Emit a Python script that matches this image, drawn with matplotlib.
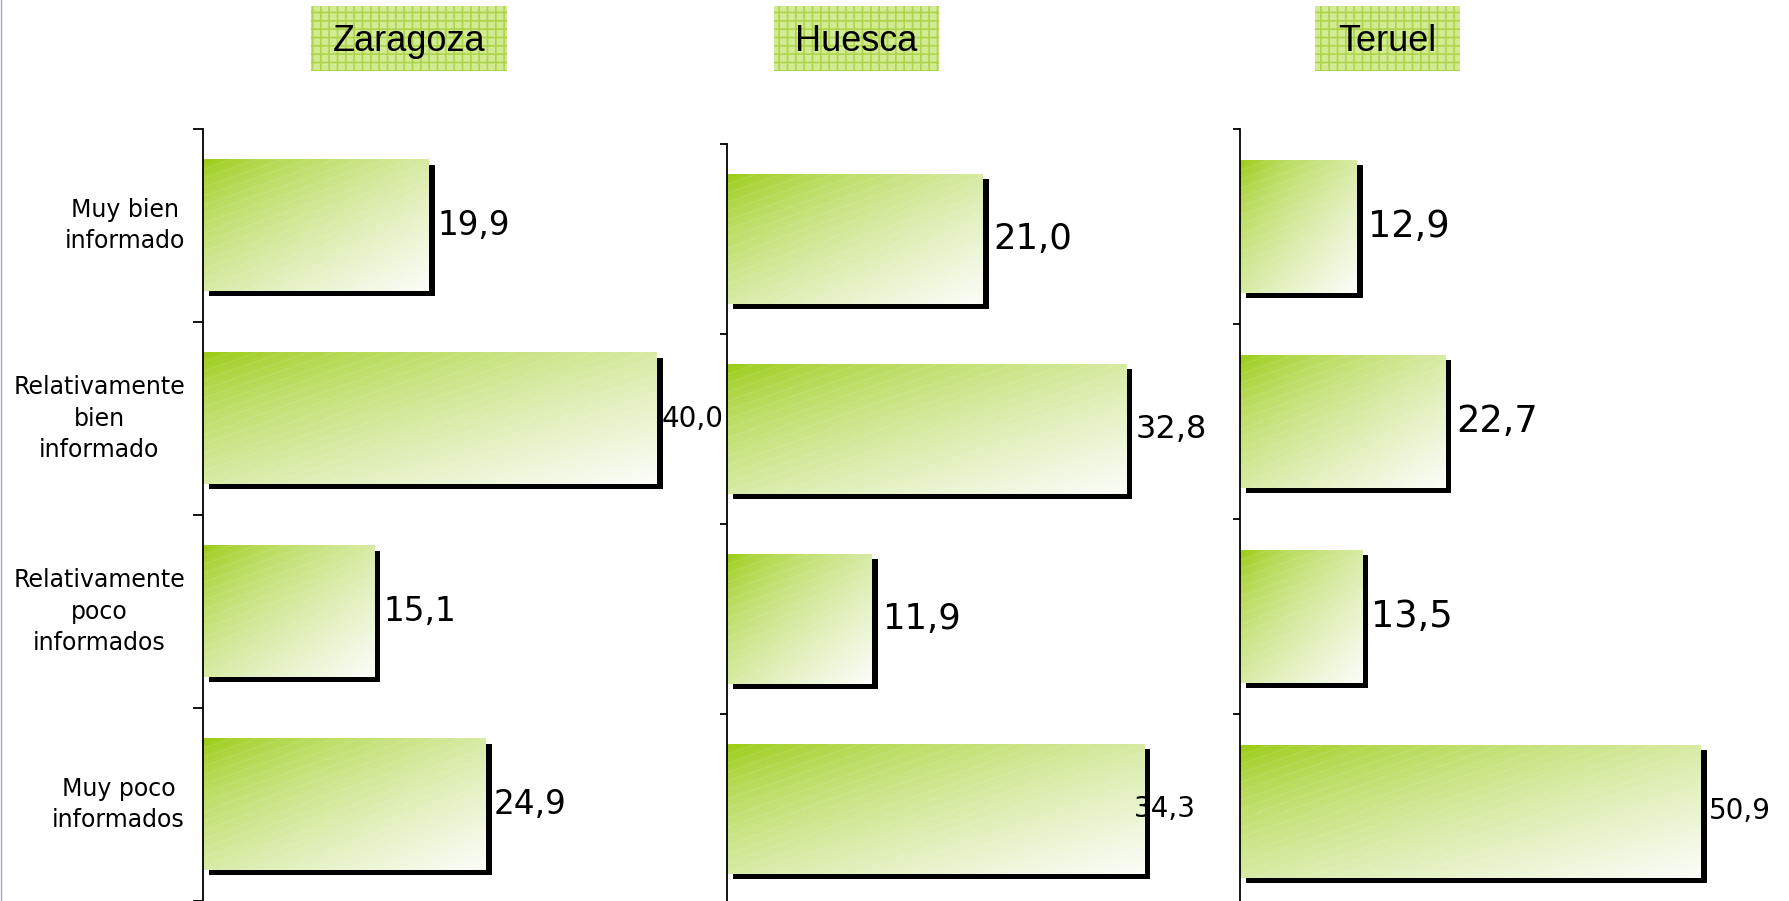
import numpy as np
import matplotlib
matplotlib.use("Agg")
import matplotlib.pyplot as plt
from matplotlib.patches import Rectangle
from matplotlib.lines import Line2D
from matplotlib.transforms import ScaledTranslation

# data
provincias = ["Zaragoza", "Huesca", "Teruel"]
categorias = ["Muy bien\ninformado", "Relativamente\nbien\ninformado",
              "Relativamente\npoco\ninformados", "Muy poco\ninformados"]
zaragoza = [19.9, 40.0, 15.1, 24.9]
huesca = [21.0, 32.8, 11.9, 34.3]
teruel = [12.9, 22.7, 13.5, 50.9]

W, H = 1789, 901
DPI = 100

# panel layout in pixels: left, top, band height, px per unit, xmax, tick length
layout = [
    (203, 129, 193, 11.35, 45, 7),
    (727, 144, 190, 12.17, 40, 5),
    (1240, 129, 195, 9.05, 60, 5),
]
# label font sizes and x offsets (px) per bar
label_sizes = [[23.5, 20, 23.5, 23.5], [25.5, 23, 25.5, 20], [26.5, 26.5, 26.5, 20]]
label_offsets = [[9, 5, 9, 8], [11, 9, 10, -11], [11, 11, 9, 8]]
# title boxes: x0, x1, y0, y1 (px)
title_boxes = [(311, 507, 6, 71), (774, 939, 6, 71), (1315, 1460, 6, 71)]

GREEN = np.array([150, 202, 10]) / 255
WHITE = np.array([252, 253, 250]) / 255
BAR_H = 0.68

plt.rcParams["hatch.linewidth"] = 1.2

fig = plt.figure(figsize=(W / DPI, H / DPI), dpi=DPI)
fig.patch.set_facecolor("white")


def gradient_bar(ax, y, value, ppu, band):
    w_px = max(int(value * ppu), 2)
    h_px = max(int(BAR_H * band), 2)
    xf = np.linspace(0, 1, w_px)[None, :]
    yf = np.linspace(0, 1, h_px)[:, None]
    t = np.clip((xf + yf) / 2, 0, 1) ** 0.65
    xx = np.arange(w_px)[None, :]
    yy = np.arange(h_px)[:, None]
    stripes = ((yy + 0.35 * xx) % 9 < 1.5) * 0.08
    t = np.clip(t + stripes * (1 - t), 0, 1)
    img = GREEN * (1 - t[..., None]) + WHITE * t[..., None]
    ax.imshow(img, extent=(0, value, y - BAR_H / 2, y + BAR_H / 2), origin="upper",
              aspect="auto", interpolation="nearest", zorder=3)


series = [zaragoza, huesca, teruel]
ypos = [3, 2, 1, 0]

for p, (vals, lay) in enumerate(zip(series, layout)):
    left, top, band, ppu, xmax, ticklen = lay
    height = 4 * band
    rect = [left / W, (H - top - height) / H, xmax * ppu / W, height / H]
    ax = fig.add_axes(rect)
    ax.set_facecolor("none")

    shadow_tr = ax.transData + ScaledTranslation(6 / DPI, -5 / DPI, fig.dpi_scale_trans)
    for i, v in enumerate(vals):
        y = ypos[i]
        ax.add_patch(Rectangle((0, y - BAR_H / 2), v, BAR_H, fc="black", ec="none",
                               transform=shadow_tr, zorder=2))
        gradient_bar(ax, y, v, ppu, band)
        lab_tr = ax.transData + ScaledTranslation(label_offsets[p][i] / DPI, 0, fig.dpi_scale_trans)
        ax.text(v, y, f"{v:.1f}".replace(".", ","), transform=lab_tr, ha="left",
                va="center", fontsize=label_sizes[p][i], family="DejaVu Sans",
                color="black", zorder=5)

    ax.set_xlim(0, xmax)
    ax.set_ylim(-0.5, 3.5)
    for s in ["top", "right", "bottom"]:
        ax.spines[s].set_visible(False)
    ax.spines["left"].set_linewidth(1.3)
    ax.spines["left"].set_zorder(4)
    ax.set_xticks([])
    ax.set_yticks([-0.5, 0.5, 1.5, 2.5, 3.5])
    ax.set_yticklabels([])
    ax.tick_params(axis="y", direction="out", length=ticklen, width=1.3)

    if p == 0:
        cat_tr = ax.get_yaxis_transform() + ScaledTranslation(-18 / DPI, 0, fig.dpi_scale_trans)
        for i, c in enumerate(categorias):
            ax.text(0, ypos[i], c, transform=cat_tr, ha="right", va="center",
                    multialignment="center", fontsize=17, linespacing=1.38,
                    family="DejaVu Sans")

    # province title box
    x0, x1, y0, y1 = title_boxes[p]
    fig.add_artist(Rectangle((x0 / W, 1 - y1 / H), (x1 - x0) / W, (y1 - y0) / H,
                             transform=fig.transFigure, fc="#d2ea92", ec="#aed44c",
                             lw=0, hatch="++", zorder=1))
    fig.text((x0 + x1) / 2 / W, 1 - 51 / H, provincias[p], ha="center", va="baseline",
             fontsize=26, family="Liberation Sans", zorder=2)

fig.add_artist(Line2D([0.0004, 0.0004], [0, 1], transform=fig.transFigure,
                      color="#a0aac4", lw=1.0))

fig.savefig("out.png", dpi=DPI)
